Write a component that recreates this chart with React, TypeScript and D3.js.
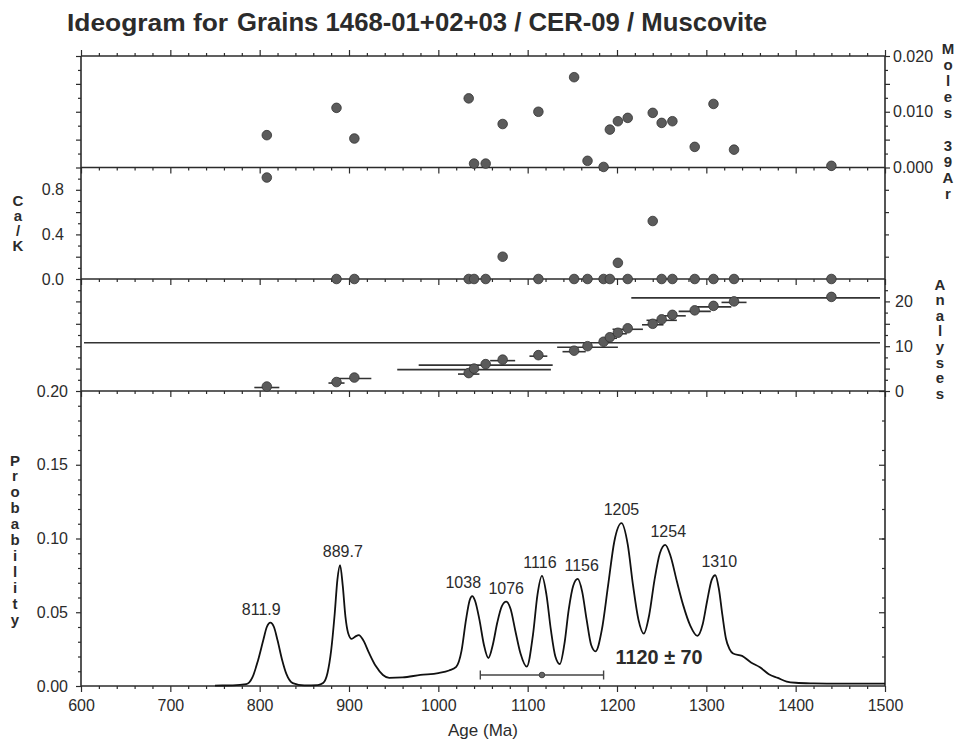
import React, { useRef, useEffect } from 'react';
import * as d3 from 'd3';

// single-grain analyses, in the order they stack up in the middle panel
const ages = [808, 886, 906, 1034, 1040, 1053, 1072, 1112, 1152, 1167, 1185, 1192, 1201, 1212, 1240, 1250, 1262, 1287, 1308, 1331, 1440];
const ageErrors = [14, 9, 19, 12, 86, 75, 14, 10, 13, 34, 700, 8, 10, 17, 12, 17, 15, 18, 20, 14, 224];
const moles39Ar = [0.0058, 0.0107, 0.0052, 0.0124, 0.0007, 0.0007, 0.0078, 0.0100, 0.0162, 0.0012, 0.0001,
  0.0068, 0.0083, 0.0089, 0.0098, 0.0080, 0.0083, 0.0037, 0.0114, 0.0032, 0.0003];
const caK = [0.91, 0, 0, 0, 0, 0, 0.20, 0, 0, 0, 0, 0, 0.145, 0, 0.52, 0, 0, 0, 0, 0, 0];

// probability density curve
const probAges = [750, 770, 785, 792, 798, 804, 808, 812, 816, 820, 825, 830, 837, 850, 865, 871, 876, 880, 884, 887,
  890, 893, 896, 899, 903, 907, 911, 916, 922, 930, 938, 945, 960, 980, 1000, 1012, 1020, 1026, 1031, 1035,
  1038, 1041, 1046, 1051, 1056, 1061, 1066, 1071, 1076, 1081, 1086, 1092, 1099, 1106, 1111, 1116, 1121, 1126, 1131, 1136,
  1141, 1146, 1151, 1156, 1161, 1166, 1171, 1176, 1183, 1190, 1197, 1205, 1212, 1218, 1224, 1230, 1236, 1242, 1248, 1254,
  1260, 1267, 1274, 1282, 1290, 1296, 1301, 1306, 1310, 1314, 1318, 1322, 1326, 1330, 1340, 1350, 1360, 1370, 1380, 1390,
  1400, 1420, 1450, 1500];
const probValues = [0.0003, 0.0004, 0.0012, 0.006, 0.017, 0.031, 0.040, 0.043, 0.040, 0.031, 0.018, 0.008, 0.002, 0.0004, 0.0006, 0.002, 0.009, 0.024, 0.049, 0.072,
  0.082, 0.068, 0.047, 0.036, 0.032, 0.0335, 0.0345, 0.031, 0.023, 0.0135, 0.0075, 0.0055, 0.0058, 0.0075, 0.0088, 0.0105, 0.013, 0.024, 0.045, 0.058,
  0.061, 0.058, 0.045, 0.028, 0.019, 0.028, 0.043, 0.054, 0.0572, 0.052, 0.038, 0.022, 0.0131, 0.035, 0.062, 0.0747, 0.062, 0.038, 0.020, 0.0149,
  0.028, 0.052, 0.068, 0.0726, 0.064, 0.045, 0.028, 0.0235, 0.038, 0.068, 0.098, 0.1104, 0.096, 0.068, 0.045, 0.0355, 0.048, 0.072, 0.090, 0.0957,
  0.088, 0.071, 0.055, 0.041, 0.034, 0.042, 0.058, 0.072, 0.0751, 0.066, 0.048, 0.032, 0.025, 0.022, 0.0204, 0.016, 0.0127, 0.008, 0.0055, 0.003,
  0.0022, 0.0018, 0.0016, 0.0016];

const peakLabels = ['811.9', '889.7', '1038', '1076', '1116', '1156', '1205', '1254', '1310'];
const peakAges = [811.9, 889.7, 1038, 1076, 1116, 1156, 1205, 1254, 1310];
const peakProbs = [0.043, 0.082, 0.061, 0.0572, 0.0747, 0.0726, 0.1104, 0.0957, 0.0751];

const meanAge = 1116;
const meanError = 69;
const meanLabel = '1120 \u00b1 70';

const xMajor = d3.range(600, 1501, 100);
const xMinor = d3.range(600, 1501, 20).filter(d => d % 100 !== 0);

// layout
const W = 963, H = 747;
const X0 = 81, X1 = 885;
const Y_TOP = 56, Y_MOLES = 167.5, Y_CAK = 279, Y_N = 391, Y_BOT = 686;
const MEAN_BAR_Y = 675;
const FONT = '"Liberation Sans", Arial, sans-serif';
const INK = '#2b2b2b';
const labelDx = [-9, 3, -9, 0, -2, 4, 0, 3, 4];

const App = () => {
  const svgRef = useRef(null);

  useEffect(() => {
    const svg = d3.select(svgRef.current);
    svg.selectAll('*').remove();

    const x = d3.scaleLinear().domain([600, 1500]).range([X0, X1]);
    const yMoles = d3.scaleLinear().domain([0, 0.02]).range([Y_MOLES, Y_TOP]);
    const yCaK = d3.scaleLinear().domain([0, 1]).range([Y_CAK, Y_MOLES]);
    const yN = d3.scaleLinear().domain([0, 25]).range([Y_N, Y_CAK]);
    const yP = d3.scaleLinear().domain([0, 0.2]).range([Y_BOT, Y_N]);

    const addAxis = (axis, transform) => {
      const g = svg.append('g').attr('transform', transform).call(axis);
      g.select('.domain').remove();
      g.selectAll('line').attr('stroke', INK).attr('stroke-width', 1.2);
      g.selectAll('text').attr('fill', INK);
      g.attr('font-family', FONT).attr('font-size', 16);
      return g;
    };
    const noText = () => '';

    // x ticks along every panel boundary
    addAxis(d3.axisTop(x).tickValues(xMajor).tickSize(6).tickFormat(noText), `translate(0,${Y_TOP})`);
    addAxis(d3.axisTop(x).tickValues(xMinor).tickSize(3).tickFormat(noText), `translate(0,${Y_TOP})`);
    [Y_MOLES, Y_CAK, Y_N].forEach(yy => {
      addAxis(d3.axisBottom(x).tickValues(xMajor).tickSize(6).tickFormat(noText), `translate(0,${yy})`);
      addAxis(d3.axisBottom(x).tickValues(xMinor).tickSize(3).tickFormat(noText), `translate(0,${yy})`);
    });
    addAxis(d3.axisBottom(x).tickValues(xMajor).tickSize(6).tickPadding(8).tickFormat(d3.format('d')), `translate(0,${Y_BOT})`);
    addAxis(d3.axisBottom(x).tickValues(xMinor).tickSize(3).tickFormat(noText), `translate(0,${Y_BOT})`);

    // moles 39Ar panel
    addAxis(d3.axisLeft(yMoles).tickValues(d3.range(0, 0.0201, 0.005)).tickSize(5).tickFormat(noText), `translate(${X0},0)`);
    addAxis(d3.axisLeft(yMoles).tickValues(d3.range(0.0025, 0.02, 0.005)).tickSize(3).tickFormat(noText), `translate(${X0},0)`);
    addAxis(d3.axisRight(yMoles).tickValues([0, 0.005, 0.01, 0.015, 0.02]).tickSize(5).tickPadding(3)
      .tickFormat((d, i) => (i % 2 === 0 ? d3.format('.3f')(d) : '')), `translate(${X1},0)`);
    addAxis(d3.axisRight(yMoles).tickValues(d3.range(0.0025, 0.02, 0.005)).tickSize(3).tickFormat(noText), `translate(${X1},0)`);

    // Ca/K panel
    addAxis(d3.axisLeft(yCaK).tickValues([0, 0.2, 0.4, 0.6, 0.8]).tickSize(5).tickPadding(12)
      .tickFormat((d, i) => (i % 2 === 0 ? d3.format('.1f')(d) : '')), `translate(${X0},0)`);
    addAxis(d3.axisLeft(yCaK).tickValues([0.1, 0.3, 0.5, 0.7, 0.9]).tickSize(3).tickFormat(noText), `translate(${X0},0)`);
    addAxis(d3.axisRight(yCaK).tickValues([0.2, 0.4, 0.6, 0.8]).tickSize(4).tickFormat(noText), `translate(${X1},0)`);

    // analyses panel
    addAxis(d3.axisLeft(yN).tickValues([5, 10, 15, 20]).tickSize(5).tickFormat(noText), `translate(${X0},0)`);
    addAxis(d3.axisLeft(yN).tickValues([2.5, 7.5, 12.5, 17.5, 22.5]).tickSize(3).tickFormat(noText), `translate(${X0},0)`);
    addAxis(d3.axisRight(yN).tickValues([0, 5, 10, 15, 20]).tickSize(5).tickPadding(5)
      .tickFormat(d => (d % 10 === 0 ? String(d) : '')), `translate(${X1},0)`);
    addAxis(d3.axisRight(yN).tickValues([2.5, 7.5, 12.5, 17.5, 22.5]).tickSize(3).tickFormat(noText), `translate(${X1},0)`);

    // probability panel
    addAxis(d3.axisLeft(yP).tickValues(d3.range(0, 0.201, 0.05)).tickSize(5).tickPadding(8)
      .tickFormat(d3.format('.2f')), `translate(${X0},0)`);
    addAxis(d3.axisLeft(yP).tickValues(d3.range(0.01, 0.2, 0.01).filter(d => Math.round(d * 100) % 5 !== 0))
      .tickSize(3).tickFormat(noText), `translate(${X0},0)`);
    addAxis(d3.axisLeft(yP).tickValues(d3.range(0.05, 0.2, 0.05)).tickSize(6).tickFormat(noText), `translate(${X1},0)`);
    addAxis(d3.axisLeft(yP).tickValues(d3.range(0.02, 0.2, 0.02)).tickSize(3).tickFormat(noText), `translate(${X1},0)`);

    // frame lines
    const frame = svg.append('g').attr('stroke', INK).attr('stroke-width', 1.6);
    [Y_TOP, Y_MOLES, Y_CAK, Y_N, Y_BOT].forEach(yy => {
      frame.append('line').attr('x1', X0).attr('x2', X1).attr('y1', yy).attr('y2', yy);
    });
    [X0, X1].forEach(xx => {
      frame.append('line').attr('x1', xx).attr('x2', xx).attr('y1', Y_TOP).attr('y2', Y_BOT);
    });

    const dotStyle = sel => sel.attr('r', 4.8).attr('fill', '#5b5b5b').attr('stroke', '#333').attr('stroke-width', 0.8);

    // moles 39Ar dots
    svg.append('g').selectAll('circle').data(ages).join('circle')
      .attr('cx', d => x(d)).attr('cy', (d, i) => yMoles(moles39Ar[i])).call(dotStyle);

    // Ca/K dots
    svg.append('g').selectAll('circle').data(ages).join('circle')
      .attr('cx', d => x(d)).attr('cy', (d, i) => yCaK(caK[i])).call(dotStyle);

    // analyses with 2 sigma bars
    svg.append('clipPath').attr('id', 'nclip').append('rect')
      .attr('x', X0 + 3).attr('y', Y_CAK).attr('width', X1 - X0 - 8).attr('height', Y_N - Y_CAK);
    const an = svg.append('g');
    an.append('g').attr('clip-path', 'url(#nclip)').selectAll('line').data(ages).join('line')
      .attr('x1', (d, i) => x(d - ageErrors[i])).attr('x2', (d, i) => x(d + ageErrors[i]))
      .attr('y1', (d, i) => yN(i + 1) + 1).attr('y2', (d, i) => yN(i + 1) + 1)
      .attr('stroke', '#333').attr('stroke-width', 1.6);
    an.append('g').selectAll('circle').data(ages).join('circle')
      .attr('cx', d => x(d)).attr('cy', (d, i) => yN(i + 1)).call(dotStyle);

    // probability curve
    const line = d3.line().x(d => x(d[0])).y(d => yP(d[1])).curve(d3.curveMonotoneX);
    svg.append('path').datum(probAges.map((a, i) => [a, probValues[i]]))
      .attr('d', line).attr('fill', 'none').attr('stroke', '#111').attr('stroke-width', 1.8);

    // peak labels
    svg.append('g').attr('font-family', FONT).attr('font-size', 16).attr('fill', INK).attr('text-anchor', 'middle')
      .selectAll('text').data(peakLabels).join('text')
      .attr('x', (d, i) => x(peakAges[i]) + labelDx[i]).attr('y', (d, i) => yP(peakProbs[i]) - 8)
      .text(d => d);

    // weighted mean bar
    const mb = svg.append('g').attr('stroke', '#444').attr('stroke-width', 1.4);
    mb.append('line').attr('x1', x(meanAge - meanError)).attr('x2', x(meanAge + meanError))
      .attr('y1', MEAN_BAR_Y).attr('y2', MEAN_BAR_Y);
    [meanAge - meanError, meanAge + meanError].forEach(a => {
      mb.append('line').attr('x1', x(a)).attr('x2', x(a)).attr('y1', MEAN_BAR_Y - 4.5).attr('y2', MEAN_BAR_Y + 4.5);
    });
    svg.append('circle').attr('cx', x(meanAge)).attr('cy', MEAN_BAR_Y).attr('r', 2.8).attr('fill', '#666').attr('stroke', '#444');
    svg.append('text').attr('x', x(meanAge + meanError) + 12).attr('y', MEAN_BAR_Y - 11)
      .attr('font-family', FONT).attr('font-size', 21).attr('font-weight', 'bold').attr('fill', INK)
      .attr('textLength', 87).attr('lengthAdjust', 'spacingAndGlyphs').text(meanLabel);

    // stacked axis titles
    const stack = (chars, cx, y0, step) => {
      const g = svg.append('g').attr('font-family', FONT).attr('font-size', 15).attr('font-weight', 'bold')
        .attr('fill', INK).attr('text-anchor', 'middle');
      chars.split('').forEach((c, i) => {
        if (c !== ' ') g.append('text').attr('x', cx).attr('y', y0 + i * step).text(c);
      });
    };
    stack('Moles 39Ar', 948, 53.5, 16.2);
    stack('Ca/K', 18, 205.5, 15.3);
    stack('Analyses', 940, 289.5, 15.6);
    stack('Probability', 15, 465.5, 15.9);

    svg.append('text').attr('x', (X0 + X1) / 2).attr('y', 736).attr('text-anchor', 'middle')
      .attr('font-family', FONT).attr('font-size', 17).attr('fill', INK).text('Age (Ma)');

    // title
    const title = svg.append('g').attr('font-family', FONT).attr('font-weight', 'bold').attr('fill', INK);
    title.append('text').attr('x', 67).attr('y', 31).attr('font-size', 24)
      .attr('textLength', 161).attr('lengthAdjust', 'spacingAndGlyphs').text('Ideogram for');
    title.append('text').attr('x', 237).attr('y', 31).attr('font-size', 25)
      .attr('textLength', 530).attr('lengthAdjust', 'spacingAndGlyphs').text('Grains 1468-01+02+03 / CER-09 / Muscovite');
  }, []);

  return (
    <svg
      ref={svgRef}
      width={W}
      height={H}
      style={{ position: 'absolute', left: 0, top: 0, background: '#fff' }}
    />
  );
};

export default App;
